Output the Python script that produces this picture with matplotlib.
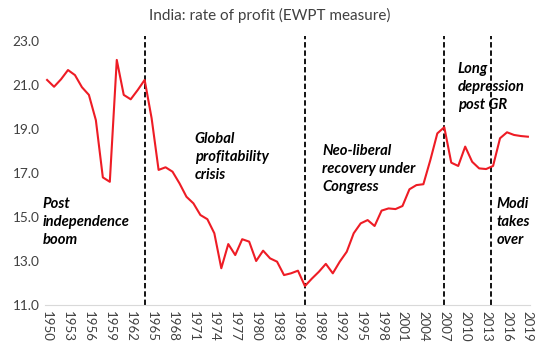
import matplotlib
matplotlib.use("Agg")
import matplotlib.pyplot as plt

years = list(range(1950, 2020))
profit_rate = [
    21.23, 20.92, 21.26, 21.68, 21.45, 20.90, 20.55, 19.40, 16.80, 16.60,
    22.14, 20.55, 20.35, 20.77, 21.23, 19.49, 17.14, 17.26, 17.06, 16.53,
    15.92, 15.62, 15.09, 14.90, 14.26, 12.67, 13.77, 13.27, 13.99, 13.88,
    13.00, 13.47, 13.12, 12.97, 12.36, 12.44, 12.56, 11.86, 12.20, 12.51,
    12.87, 12.44, 12.97, 13.42, 14.26, 14.71, 14.86, 14.59, 15.29, 15.39,
    15.36, 15.50, 16.26, 16.45, 16.49, 17.59, 18.80, 19.08, 17.47, 17.32,
    18.20, 17.51, 17.21, 17.18, 17.32, 18.58, 18.85, 18.73, 18.68, 18.65,
]
break_years = [1964, 1987, 2007, 2013.7]
tick_years = list(range(1950, 2020, 3))
y_ticks = [11.0, 13.0, 15.0, 17.0, 19.0, 21.0, 23.0]
period_labels = [
    ("Post\nindependence\nboom", 1949.4, 15.91),
    ("Global\nprofitability\ncrisis", 1971.2, 18.86),
    ("Neo-liberal\nrecovery under\nCongress", 1989.45, 18.32),
    ("Long\ndepression\npost GR", 2008.95, 22.05),
    ("Modi\ntakes\nover", 2014.55, 15.91),
]
title = "India: rate of profit (EWPT measure)"

plt.rcParams['font.family'] = ['Lato', 'DejaVu Sans']

fig = plt.figure(figsize=(5.4, 3.5), dpi=100)
ax = fig.add_axes([45/540, 45/350, 485/540, 264/350])

ax.plot(years, profit_rate, color='#ee1c25', lw=1.5, zorder=3)

for by in break_years:
    ax.plot([by, by], [11.0, 23.25], color='black', lw=1.3,
            linestyle=(0, (3, 1.6)), clip_on=False, zorder=2)

ax.set_xlim(1949.7, 2019.3)
ax.set_ylim(11.0, 23.0)
ax.set_xticks(tick_years)
ax.set_xticklabels([str(y) for y in tick_years], rotation=270, fontsize=9.5,
                   color='#404040')
ax.set_yticks(y_ticks)
ax.set_yticklabels([f"{v:.1f}" for v in y_ticks], fontsize=9.8, color='#404040')
ax.tick_params(axis='both', length=0, pad=4)

for side in ['top', 'right', 'left']:
    ax.spines[side].set_visible(False)
ax.spines['bottom'].set_color('#d9d9d9')
ax.spines['bottom'].set_linewidth(0.8)

for txt, x, y in period_labels:
    ax.text(x, y, txt, fontsize=10.6, fontweight='bold', fontstyle='italic',
            va='top', ha='left', linespacing=1.35, color='black')

fig.text(0.5, 0.957, title, ha='center', va='center', fontsize=11,
         color='#404040')

fig.savefig('out.png', dpi=100)
